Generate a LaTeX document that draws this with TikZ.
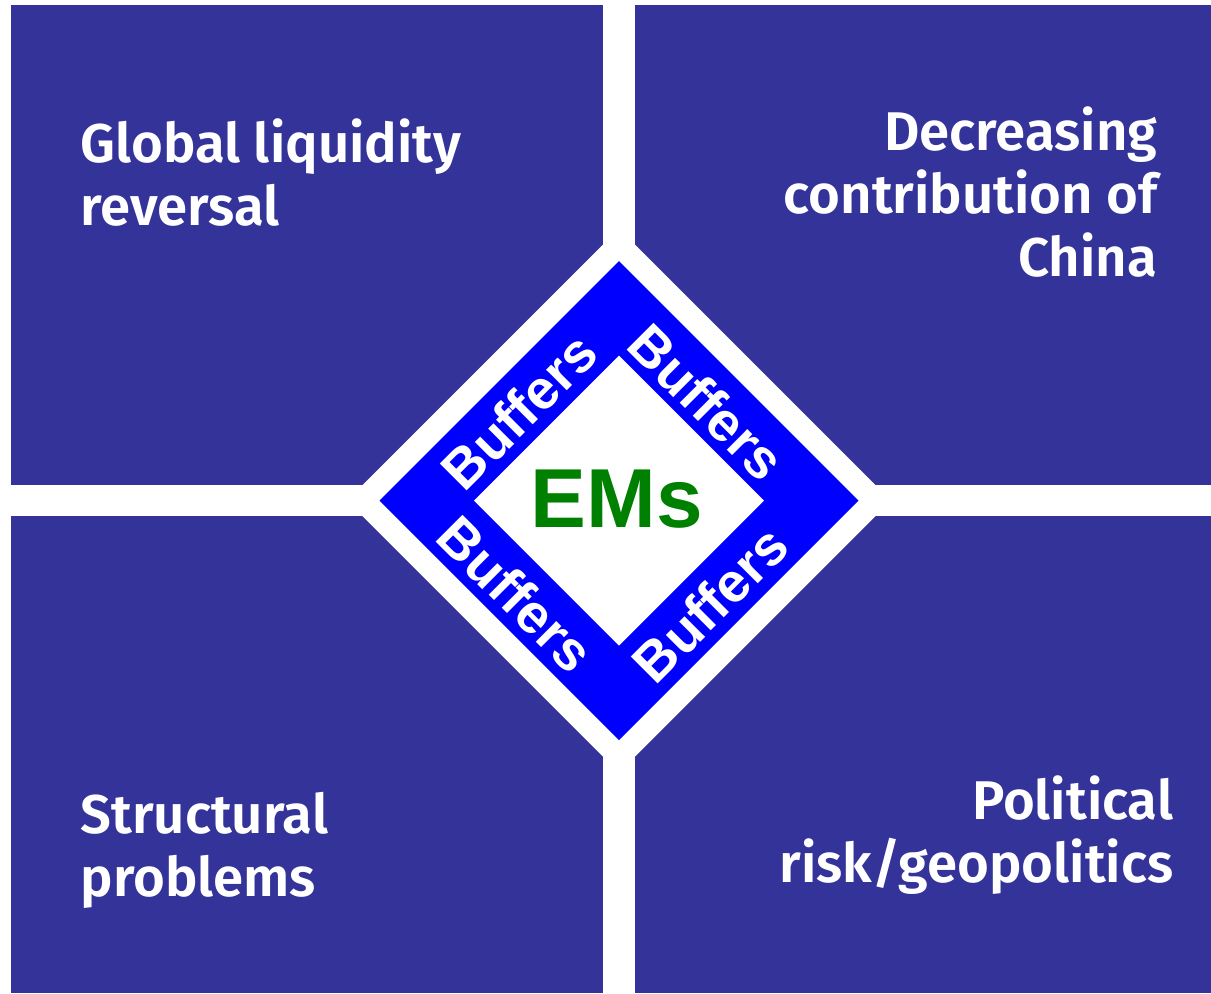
\documentclass[tikz,border=0pt]{standalone}
\usepackage{fontspec}
\usepackage{tikz}
\usetikzlibrary{calc}
\newfontfamily\riskfont{Fira Sans SemiBold}
\newfontfamily\arialfont{Liberation Sans}
\definecolor{riskblue}{RGB}{51,51,153}
\definecolor{bufblue}{RGB}{0,0,255}
\definecolor{emgreen}{RGB}{0,128,0}
\tikzset{>=latex}
\tikzset{
  risk/.style={text=white, font=\riskfont\fontsize{15.5}{17.8}\selectfont, inner sep=0pt},
  buffer/.style={text=white, font=\arialfont\bfseries\fontsize{15.7}{18}\selectfont, inner sep=0pt, text depth=0pt},
}

\begin{document}
\begin{tikzpicture}[x=0.01cm, y=-0.01cm]
\fill[white] (0,0) rectangle (1211,993);
\useasboundingbox (0,0) rectangle (1211,993);
% the four risk panels
\fill[riskblue] (11,5) rectangle (603,485);
\fill[riskblue] (635,5) rectangle (1211,485);
\fill[riskblue] (11,516) rectangle (603,993);
\fill[riskblue] (635,516) rectangle (1211,993);
% diamond in the middle
\coordinate (em) at (619,500.5);
\fill[white] ($(em)+(0,-272)$) -- ($(em)+(272,0)$) -- ($(em)+(0,272)$) -- ($(em)+(-272,0)$) -- cycle;
\fill[bufblue] ($(em)+(0,-239.5)$) -- ($(em)+(239.5,0)$) -- ($(em)+(0,239.5)$) -- ($(em)+(-239.5,0)$) -- cycle;
\fill[white] ($(em)+(0,-145)$) -- ($(em)+(145,0)$) -- ($(em)+(0,145)$) -- ($(em)+(-145,0)$) -- cycle;
\node[text=emgreen, font=\arialfont\bfseries\fontsize{23.8}{26}\selectfont, inner sep=0pt] (ems) at (617,499) {EMs};
\node[buffer, rotate=45] (bufnw) at (519,411) {Buffers};
\node[buffer, rotate=-45] (bufne) at (707,402) {Buffers};
\node[buffer, rotate=-45] (bufsw) at (516,594) {Buffers};
\node[buffer, rotate=45] (bufse) at (710,604) {Buffers};
% panel labels, placed by the baseline of their last line
\node[risk, anchor=base west, align=left] (liq) at (80,225) {Global liquidity\\reversal};
\node[risk, anchor=base east, align=right] (china) at (1158,276) {Decreasing\\contribution of\\China};
\node[risk, anchor=base west, align=left] (struct) at (80,896) {Structural\\problems};
\node[risk, anchor=base east, align=right] (geo) at (1174,882) {Political\\risk/geopolitics};
\end{tikzpicture}
\end{document}
